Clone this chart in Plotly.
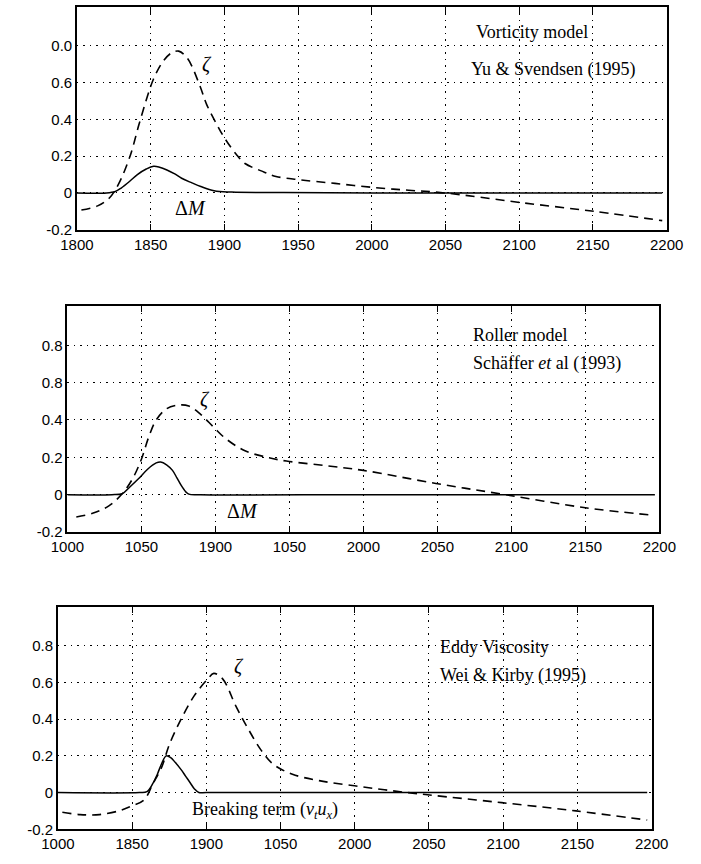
import plotly.graph_objects as go

# ---------------- data ----------------
# Panel 1: Vorticity model
p1_zeta_x = [1803, 1814, 1822, 1828, 1836, 1842, 1848, 1852, 1858, 1864, 1869, 1875, 1883, 1888, 1895,
             1900, 1908, 1914, 1925, 1935, 1951, 1975, 2001, 2025, 2050, 2099, 2151, 2197]
p1_zeta_y = [-0.092, -0.07, -0.027, 0.045, 0.20, 0.37, 0.53, 0.62, 0.71, 0.76, 0.77, 0.73, 0.59, 0.48, 0.37,
             0.30, 0.21, 0.16, 0.12, 0.09, 0.072, 0.052, 0.03, 0.015, 0.0, -0.05, -0.10, -0.15]
p1_dm_x = [1800, 1820, 1826, 1830, 1836, 1841, 1847, 1852, 1856, 1861, 1866, 1871, 1878, 1884, 1893, 1905,
           1940, 2000, 2100, 2197]
p1_dm_y = [0.0, 0.0, 0.008, 0.027, 0.065, 0.10, 0.13, 0.145, 0.14, 0.125, 0.105, 0.08, 0.055, 0.035, 0.012,
           0.005, 0.002, 0.0, 0.0, 0.0]

# Panel 2: Roller model
p2_zeta_x = [1806, 1817, 1828, 1837, 1844, 1850, 1855, 1860, 1867, 1875, 1882, 1890, 1899, 1907, 1920,
             1935, 1948, 1975, 2000, 2049, 2096, 2150, 2196]
p2_zeta_y = [-0.12, -0.10, -0.06, 0.005, 0.085, 0.19, 0.31, 0.40, 0.46, 0.48, 0.475, 0.43, 0.36, 0.30, 0.235,
             0.20, 0.18, 0.155, 0.13, 0.06, 0.0, -0.07, -0.11]
p2_dm_x = [1800, 1830, 1837, 1842, 1848, 1854, 1860, 1863, 1867, 1871, 1874, 1877, 1880, 1882, 1890, 2000,
           2100, 2197]
p2_dm_y = [0.0, 0.0, 0.005, 0.04, 0.085, 0.135, 0.17, 0.175, 0.16, 0.13, 0.09, 0.048, 0.015, 0.003, 0.0, 0.0,
           0.0, 0.0]

# Panel 3: Eddy viscosity
p3_zeta_x = [1803, 1815, 1828, 1841, 1849, 1858, 1864, 1870, 1875, 1883, 1892, 1901, 1905, 1911, 1920,
             1928, 1937, 1945, 1958, 1976, 1997, 2020, 2049, 2099, 2149, 2197]
p3_zeta_y = [-0.107, -0.12, -0.12, -0.10, -0.075, -0.04, 0.048, 0.14, 0.26, 0.40, 0.53, 0.62, 0.65, 0.62, 0.47,
             0.35, 0.23, 0.155, 0.10, 0.065, 0.04, 0.015, -0.012, -0.055, -0.10, -0.15]
p3_bt_x = [1800, 1855, 1860, 1864, 1867, 1870, 1873, 1876, 1879, 1883, 1886, 1889, 1892, 1895, 1900, 2000,
           2100, 2197]
p3_bt_y = [0.0, 0.0, 0.005, 0.05, 0.10, 0.16, 0.20, 0.19, 0.165, 0.125, 0.09, 0.055, 0.02, 0.0, 0.0, 0.0,
           0.0, 0.0]

x_tickvals = [1800, 1850, 1900, 1950, 2000, 2050, 2100, 2150, 2200]
x_ticktext_1 = ["1800", "1850", "1900", "1950", "2000", "2050", "2100", "2150", "2200"]
x_ticktext_2 = ["1000", "1050", "1900", "1050", "2000", "2050", "2100", "2150", "2200"]
x_ticktext_3 = ["1000", "1850", "1900", "1050", "2000", "2050", "2100", "2150", "2200"]
y_tickvals = [-0.2, 0, 0.2, 0.4, 0.6, 0.8]
y_ticktext_1 = ["-0.2", "0", "0.2", "0.4", "0.6", "0.0"]
y_ticktext_2 = ["-0.2", "0", "0.2", "0.4", "0.8", "0.8"]
y_ticktext_3 = ["-0.2", "0", "0.2", "0.4", "0.6", "0.8"]

# ---------------- figure ----------------
fig = go.Figure()
dash_style = dict(color="black", width=1.6, dash="9px,6px")
solid_style = dict(color="black", width=1.5)

panels = [
    (p1_zeta_x, p1_zeta_y, p1_dm_x, p1_dm_y, "x", "y"),
    (p2_zeta_x, p2_zeta_y, p2_dm_x, p2_dm_y, "x2", "y2"),
    (p3_zeta_x, p3_zeta_y, p3_bt_x, p3_bt_y, "x3", "y3"),
]
for zx, zy, sx, sy, xa, ya in panels:
    fig.add_trace(go.Scatter(x=sx, y=sy, mode="lines", line=solid_style, xaxis=xa, yaxis=ya,
                             line_shape="spline", showlegend=False))
    fig.add_trace(go.Scatter(x=zx, y=zy, mode="lines", line=dash_style, xaxis=xa, yaxis=ya,
                             line_shape="spline", showlegend=False))

tick_font = dict(family="Liberation Sans, Arial, sans-serif", size=15, color="black")
grid_dash = "1.5px,5px"

def xax(domain, anchor, ticktext):
    return dict(domain=domain, anchor=anchor, range=[1800, 2200], tickvals=x_tickvals, ticktext=ticktext,
                showgrid=True, gridcolor="black", griddash=grid_dash, gridwidth=1.2,
                showline=True, linecolor="black", linewidth=1.6, mirror="ticks",
                ticks="inside", ticklen=6, tickcolor="black", tickwidth=1.3, tickfont=tick_font,
                zeroline=False)

def yax(domain, anchor, ticktext):
    return dict(domain=domain, anchor=anchor, range=[-0.2, 1.01], tickvals=y_tickvals, ticktext=ticktext,
                showgrid=True, gridcolor="black", griddash=grid_dash, gridwidth=1.2,
                showline=True, linecolor="black", linewidth=1.6, mirror=True,
                ticks="", tickfont=tick_font, zeroline=False)

fig.update_layout(
    width=701, height=864,
    margin=dict(l=0, r=0, t=0, b=0),
    paper_bgcolor="white", plot_bgcolor="white",
    xaxis=xax([0.0899, 0.974], "y", x_ticktext_1),
    yaxis=yax([0.7315, 0.9919], "x", y_ticktext_1),
    xaxis2=xax([0.0756, 0.963], "y2", x_ticktext_2),
    yaxis2=yax([0.3785, 0.6424], "x2", y_ticktext_2),
    xaxis3=xax([0.0613, 0.9515], "y3", x_ticktext_3),
    yaxis3=yax([0.03125, 0.2905], "x3", y_ticktext_3),
)

serif = dict(family="Liberation Serif, Times New Roman, serif", size=18, color="black")
big = dict(family="Liberation Serif, Times New Roman, serif", size=20, color="black")
ann = [
    ("Vorticity model", 2069, 0.876, "x", "y", "left", serif),
    ("Yu &amp; Svendsen (1995)", 2066, 0.67, "x", "y", "left", serif),
    ("<i>ζ</i>", 1888, 0.70, "x", "y", "center", big),
    ("Δ<i>M</i>", 1877, -0.08, "x", "y", "center", big),
    ("Roller model", 2073, 0.853, "x2", "y2", "left", serif),
    ("Schäffer <i>et</i> al (1993)", 2073, 0.70, "x2", "y2", "left", serif),
    ("<i>ζ</i>", 1893, 0.51, "x2", "y2", "center", big),
    ("Δ<i>M</i>", 1918, -0.085, "x2", "y2", "center", big),
    ("Eddy Viscosity", 2056, 0.795, "x3", "y3", "left", serif),
    ("Wei &amp; Kirby (1995)", 2056, 0.64, "x3", "y3", "left", serif),
    ("<i>ζ</i>", 1922, 0.69, "x3", "y3", "center", big),
    ("Breaking term (<i>ν<sub>t</sub>u<sub>x</sub></i>)", 1889, -0.096, "x3", "y3", "left", serif),
]
for text, x, y, xr, yr, xanchor, f in ann:
    fig.add_annotation(text=text, x=x, y=y, xref=xr, yref=yr, xanchor=xanchor, yanchor="middle",
                       showarrow=False, font=f, bgcolor="rgba(0,0,0,0)")

fig.write_html("out.html")
